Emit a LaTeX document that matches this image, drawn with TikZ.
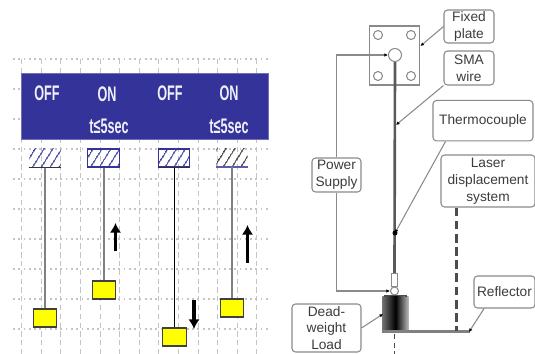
\documentclass[tikz,border=0pt]{standalone}
\usepackage{amsmath}
\usepackage{amssymb}
\usepackage{xcolor}
\usepackage{fontspec}
\setmainfont{Liberation Sans}
\usetikzlibrary{arrows.meta,patterns.meta}
\definecolor{bannerblue}{HTML}{333399}
\definecolor{gridgray}{HTML}{C4C4C4}
\definecolor{loadyellow}{HTML}{FFFF00}
\definecolor{inkgray}{HTML}{3C3C3C}
\definecolor{edgegray}{HTML}{8A8A8A}
\tikzset{
  bannertext/.style={text=white!92!bannerblue,font=\bfseries\fontsize{12}{12}\selectfont,xscale=0.6,transform shape,inner sep=0pt},
  hatchbox/.style={minimum width=0.63cm,minimum height=0.36cm,inner sep=0pt,pattern={Lines[angle=58,distance=4pt,line width=0.75pt]},pattern color=#1},
  weightbox/.style={draw=black!75,fill=loadyellow,line width=0.75pt,minimum width=0.47cm,minimum height=0.36cm,inner sep=0pt},
  wireline/.style={line width=1.1pt,draw=#1},
  motionarrow/.style={line width=1.8pt,-{Latex[length=5.5pt,width=6.5pt]}},
  labelbox/.style={draw=edgegray,rounded corners=2pt,line width=0.6pt,text=inkgray,fill=white,align=center,inner sep=0pt,font=\fontsize{7.8}{9.6}\selectfont},
  callout/.style={draw=edgegray,line width=0.6pt,-{Latex[length=2pt,width=2pt,black]}},
  hole/.style={circle,draw=edgegray,line width=0.6pt,fill=white,inner sep=0pt,minimum size=#1}
}
\begin{document}
\begin{tikzpicture}[x=0.02cm,y=-0.02cm]
\useasboundingbox (0,0) rectangle (535,354);
% grid behind the left panel
\foreach \gy in {59,89,...,329}
  \draw[gridgray,line width=1pt,dotted] (13,\gy)--(270,\gy);
\foreach \gx in {21.7,41.3,60.9,80.5,100.1,119.7,139.3,158.9,178.5,198.1,217.7,237.3,256.9}
  \draw[gridgray,line width=0.6pt,densely dashed] (\gx,59)--(\gx,354);
% banner
\node[fill=bannerblue,draw=bannerblue!70,minimum width=4.93cm,minimum height=1.32cm,inner sep=0pt] (banner) at (144.7,106) {};
\node[bannertext] (offA) at (47,93) {OFF};
\node[bannertext] (onA) at (107,94) {ON};
\node[bannertext] (offB) at (170,93) {OFF};
\node[bannertext] (onB) at (229,93) {ON};
\node[bannertext] (timeA) at (109,126) {t≤5sec};
\node[bannertext] (timeB) at (229,126) {t≤5sec};
% supports
\node[hatchbox=bannerblue] (fixA) at (45,158) {};
\node[hatchbox=bannerblue,draw=bannerblue,line width=0.6pt] (fixB) at (103.5,158) {};
\node[hatchbox=bannerblue,draw=bannerblue,line width=0.6pt] (fixC) at (174,158) {};
\node[hatchbox=black!80] (fixD) at (232,158) {};
\draw[black!80,line width=0.9pt] (fixA.south west)--(fixA.south east);
\draw[black!80,line width=0.9pt] (fixC.south west)--(fixC.south east);
\draw[bannerblue!80,line width=1.2pt] (fixD.south west)--(fixD.south east);
% loads
\node[weightbox] (loadA) at (45,318) {};
\node[weightbox] (loadB) at (104,290) {};
\node[weightbox] (loadC) at (174.5,337) {};
\node[weightbox] (loadD) at (232,308) {};
\draw[wireline=gray] (fixA.south-|loadA)--(loadA.north);
\draw[wireline=gray] (fixB.south-|loadB)--(loadB.north);
\draw[wireline=black] (fixC.south-|loadC)--(loadC.north);
\draw[wireline=gray] (fixD.south-|loadD)--(loadD.north);
% motion
\coordinate (riseBa) at (115.5,251);
\coordinate (riseBb) at (115.5,223);
\coordinate (dropCa) at (194,300);
\coordinate (dropCb) at (194,329);
\coordinate (riseDa) at (247.5,263);
\coordinate (riseDb) at (247.5,225);
\draw[motionarrow] (riseBa)--(riseBb);
\draw[motionarrow] (dropCa)--(dropCb);
\draw[motionarrow] (riseDa)--(riseDb);
% plate
\node[draw=edgegray,line width=0.6pt,minimum width=0.99cm,minimum height=1.18cm,inner sep=0pt] (plate) at (394.3,55.5) {};
\node[hole=0.18cm] (holeA) at (378,35) {};
\node[hole=0.18cm] (holeB) at (411,35) {};
\node[hole=0.18cm] (holeC) at (378,76) {};
\node[hole=0.18cm] (holeD) at (411,76) {};
\node[hole=0.26cm] (bighole) at (395,55) {};
% load end of the wire
\node[draw=edgegray,line width=0.6pt,fill=white,minimum width=0.13cm,minimum height=0.26cm,inner sep=0pt] (tube) at (394.5,280) {};
\node[hole=0.16cm] (ball) at (394.5,291) {};
\node[left color=black!55,right color=black!25,middle color=black,minimum width=0.53cm,minimum height=0.68cm,inner sep=0pt] (weight) at (395.5,314) {};
\draw[black!70,line width=0.6pt] (385,297)--(385,295.5)--(406,295.5)--(406,297);
\node[fill=black!50,minimum width=1.76cm,minimum height=0.06cm,inner sep=0pt] (reflector) at (426,332) {};
\draw[line width=1.5pt,draw=black!65] (bighole.south)--(tube.north);
\draw[line width=0.9pt,densely dashed,black!70] (reflector.south-|tube)--(394.5,354);
% labels
\node[labelbox,minimum width=1cm,minimum height=0.66cm] (fixedplate) at (469,26.5) {Fixed\\plate};
\node[labelbox,minimum width=1cm,minimum height=0.68cm] (smawire) at (469,68) {SMA\\wire};
\node[labelbox,minimum width=2cm,minimum height=0.81cm] (thermo) at (483,120.7) {Thermocouple};
\node[labelbox,minimum width=0.98cm,minimum height=0.68cm] (supply) at (336.5,175) {Power\\Supply};
\node[labelbox,minimum width=1.88cm,minimum height=1.04cm] (laser) at (488,181) {Laser\\displacement\\system};
\node[labelbox,minimum width=1.22cm,minimum height=0.64cm] (reflectlabel) at (504.5,292) {Reflector};
\node[labelbox,minimum width=1.38cm,minimum height=0.96cm] (deadload) at (326.5,328) {Dead-\\weight\\Load};
% callouts
\coordinate (platept) at (420.5,46);
\coordinate (wirept) at (396,125);
\coordinate (thermopt) at (395,233);
\coordinate (reflectpt) at (469,332);
\coordinate (weightpt) at (383,314);
\coordinate (laserpt) at (456.5,331);
\draw[callout] (fixedplate.west)--(platept);
\draw[callout] (smawire.south west)--(wirept);
\draw[callout] (thermo.209)--(thermopt);
\draw[callout] (supply.north) |- (bighole.west);
\draw[callout] (supply.south) |- (ball.west);
\draw[callout] (reflectlabel.219)--(reflectpt);
\draw[callout] (deadload.east)--(weightpt);
\fill[black] (thermopt) circle (0.05cm);
\draw[black!70,line width=1.3pt,dash pattern=on 5pt off 2.5pt] (laser.south-|laserpt)--(laserpt);
\end{tikzpicture}
\end{document}
